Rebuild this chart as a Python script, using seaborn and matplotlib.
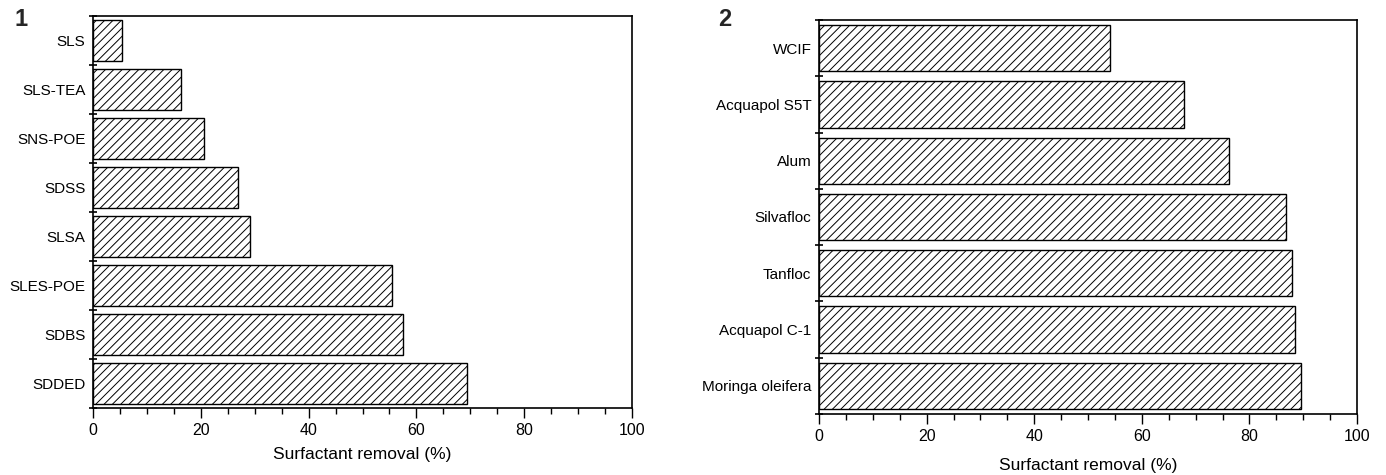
import matplotlib
matplotlib.use("Agg")
import matplotlib.pyplot as plt
import seaborn as sns
import numpy as np
import pandas as pd

cats1 = ["SLS", "SLS-TEA", "SNS-POE", "SDSS", "SLSA", "SLES-POE", "SDBS", "SDDED"]
vals1 = [5.4, 16.3, 20.6, 26.9, 29.1, 55.5, 57.5, 69.4]
cats2 = ["WCIF", "Acquapol S5T", "Alum", "Silvafloc", "Tanfloc", "Acquapol C-1", "Moringa oleifera"]
vals2 = [54.0, 67.9, 76.3, 86.8, 87.9, 88.5, 89.6]
xlabel = "Surfactant removal (%)"
xticks = [0, 20, 40, 60, 80, 100]

sns.set_theme(style="ticks")
plt.rcParams['font.family'] = ['Liberation Sans', 'DejaVu Sans']
plt.rcParams['hatch.linewidth'] = 0.7
plt.rcParams['hatch.color'] = 'black'

fig = plt.figure(figsize=(13.86, 4.75), dpi=100)
ax1 = fig.add_axes([93/1386, 1-408/475, 539/1386, 392/475])
ax2 = fig.add_axes([819/1386, 1-414/475, 538/1386, 394/475])

for ax, cats, vals, lp in [(ax1, cats1, vals1, 6), (ax2, cats2, vals2, 10)]:
    df = pd.DataFrame({"cat": cats, "val": vals})
    sns.barplot(data=df, y="cat", x="val", orient="h", ax=ax, color="white",
                edgecolor="black", linewidth=1.0, width=0.82, saturation=1)
    for p in ax.patches:
        p.set_hatch("////")
        p.set_facecolor("white")
        p.set_edgecolor("black")
    n = len(cats)
    ax.set_xlim(0, 100)
    ax.set_ylim(n - 0.5, -0.5)
    ax.set_xticks(xticks)
    ax.set_xticks(np.arange(0, 101, 5), minor=True)
    ax.set_yticks(np.arange(-0.5, n, 1), minor=True)
    ax.tick_params(axis='y', which='major', length=0, labelsize=11, pad=5.5, labelcolor='black')
    ax.tick_params(axis='y', which='minor', length=6, width=1.2, direction='inout', color='black')
    ax.tick_params(axis='x', which='major', length=7, width=1.0, direction='out',
                   labelsize=11.5, pad=4, labelcolor='black', color='black')
    ax.tick_params(axis='x', which='minor', length=4, width=1.0, direction='out', color='black')
    for s in ax.spines.values():
        s.set_visible(True)
        s.set_linewidth(1.2)
        s.set_color('black')
    ax.set_xlabel(xlabel, fontsize=12.5, labelpad=lp, color='black')
    ax.set_ylabel("")

fig.text(15/1386, 1-19/475, "1", fontsize=17, fontweight='bold', va='center', ha='left')
fig.text(718/1386, 1-20/475, "2", fontsize=17, fontweight='bold', va='center', ha='left')

fig.savefig("out.png", dpi=100)
